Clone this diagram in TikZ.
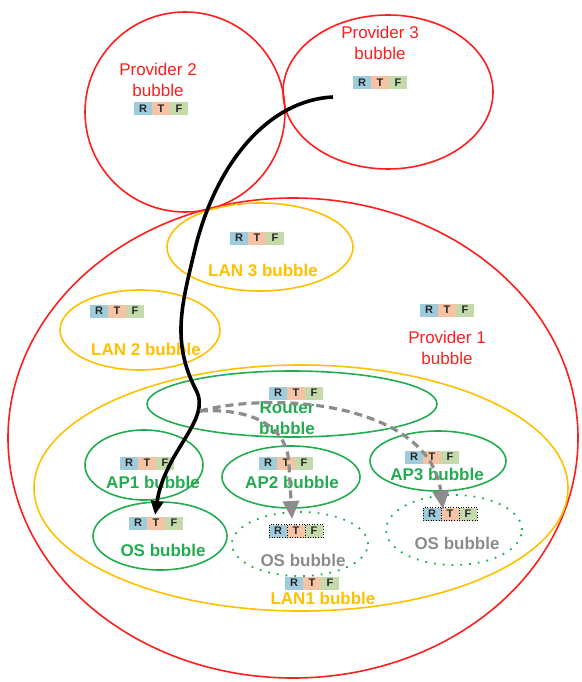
\documentclass[tikz,border=0pt]{standalone}
\usepackage{fontspec}
\setmainfont{Liberation Sans}
\usetikzlibrary{arrows.meta}
\definecolor{provred}{RGB}{255,30,30}
\definecolor{lanyel}{RGB}{255,192,0}
\definecolor{apgreen}{RGB}{34,172,80}
\definecolor{flowgray}{RGB}{140,140,140}
\definecolor{rcell}{RGB}{158,204,220}
\definecolor{tcell}{RGB}{246,196,164}
\definecolor{fcell}{RGB}{196,218,170}
\tikzset{
  bubtext/.style={font=\fontsize{17}{21}\selectfont,align=center,inner sep=0pt},
  rtftext/.style={font=\fontsize{11}{11}\selectfont\bfseries,text=black!85,inner sep=0pt},
  dotcell/.style={draw=black,dotted,line width=0.6pt},
  pics/rtf/.style={code={
    \foreach \c/\l [count=\i] in {rcell/R,tcell/T,fcell/F}{
      \path[fill=\c,#1] ({-45+18*\i},-6.5) rectangle ++(18,13);
      \node[rtftext] at ({-36+18*\i},0) {\l};
    }
  }},
  pics/rtf/.default={}
}

\begin{document}
\begin{tikzpicture}[x=1pt,y=-1pt]
          \useasboundingbox (0,0) rectangle (581,682);
          % provider bubbles
          \draw [provred,line width=1.6pt] (185,112) ellipse (100pt and 100pt);
          \draw [provred,line width=1.6pt] (388,92) ellipse (105pt and 77pt);
          \draw [provred,line width=1.6pt] (293,438) ellipse (285pt and 240pt);
          \node[bubtext,text=provred] (prov2) at (158,80) {Provider 2\\bubble};
          \node[bubtext,text=provred] (prov3) at (380,43) {Provider 3\\bubble};
          \node[bubtext,text=provred] (prov1) at (447,348) {Provider 1\\bubble};
          \pic at (161,109) {rtf};
          \pic at (380,83) {rtf};
          \pic at (447,310) {rtf};
          % LAN bubbles
          \draw [lanyel,line width=1.6pt] (260,247) ellipse (93pt and 44pt);
          \draw [lanyel,line width=1.6pt] (140,330) ellipse (80pt and 40pt);
          \draw [lanyel,line width=1.6pt] (301,488) ellipse (267pt and 123pt);
          \node[bubtext,text=lanyel,font=\fontsize{17}{21}\selectfont\bfseries] (lan3) at (263,270) {LAN 3 bubble};
          \node[bubtext,text=lanyel,font=\fontsize{17}{21}\selectfont\bfseries] (lan2) at (146,349) {LAN 2 bubble};
          \node[bubtext,text=lanyel,font=\fontsize{17}{21}\selectfont\bfseries] (lan1) at (323,598) {LAN1 bubble};
          \pic at (257,238) {rtf};
          \pic at (117,311) {rtf};
          \pic at (312,583) {rtf};
          % router, APs and OS
          \draw [apgreen,line width=1.6pt] (292,404) ellipse (145pt and 33pt);
          \draw [apgreen,line width=1.6pt] (144,465) ellipse (59pt and 35pt);
          \draw [apgreen,line width=1.6pt] (291,477) ellipse (69pt and 31pt);
          \draw [apgreen,line width=1.6pt] (438,461) ellipse (68pt and 30pt);
          \draw [apgreen,line width=1.6pt] (160,536) ellipse (67pt and 34pt);
          \draw [apgreen,line width=1.8pt,dash pattern=on 1.8pt off 7pt] (300,544) ellipse (68pt and 32pt);
          \draw [apgreen,line width=1.8pt,dash pattern=on 1.8pt off 7pt] (454,530) ellipse (68pt and 35pt);
          \node[bubtext,text=apgreen,font=\fontsize{17}{21}\selectfont\bfseries] (router) at (287,418) {Router\\bubble};
          \node[bubtext,text=apgreen,font=\fontsize{17}{21}\selectfont\bfseries] (ap1) at (153,482) {AP1 bubble};
          \node[bubtext,text=apgreen,font=\fontsize{17}{21}\selectfont\bfseries] (ap2) at (292,482) {AP2 bubble};
          \node[bubtext,text=apgreen,font=\fontsize{17}{21}\selectfont\bfseries] (ap3) at (437,474) {AP3 bubble};
          \node[bubtext,text=apgreen,font=\fontsize{17}{21}\selectfont\bfseries] (os1) at (163,550) {OS bubble};
          \node[bubtext,text=flowgray,font=\fontsize{17}{21}\selectfont\bfseries] (os2) at (303,560) {OS bubble};
          \node[bubtext,text=flowgray,font=\fontsize{17}{21}\selectfont\bfseries] (os3) at (457,543) {OS bubble};
          \pic at (296,393) {rtf};
          \pic at (147,463) {rtf};
          \pic at (286,463) {rtf};
          \pic at (432,457) {rtf};
          \pic at (156,523) {rtf};
          \pic at (296,531) {rtf=dotcell};
          \pic at (450,514) {rtf=dotcell};
          % flows
          \coordinate (p3src) at (333,97);
          \coordinate (rtsrc) at (200,411);
          \coordinate (os1in) at (155,515);
          \coordinate (os2in) at (292,519);
          \coordinate (os3in) at (443,509);
          \draw [line width=3.6pt,-{Triangle[width=12pt,length=14pt]}] (p3src) .. controls (270,100) and (218,160) .. (196,245)
                .. controls (183,300) and (170,340) .. (196,390) .. controls (212,420) and (165,450) .. (os1in);
          \draw [flowgray,line width=3.2pt,dash pattern=on 8pt off 5pt,-{Triangle[width=16pt,length=18pt]}] (rtsrc) .. controls (250,408) and (288,425) .. (289,465) -- (os2in);
          \draw [flowgray,line width=3.2pt,dash pattern=on 8pt off 5pt,-{Triangle[width=16pt,length=18pt]}] (rtsrc) .. controls (280,390) and (430,405) .. (os3in);
\end{tikzpicture}
\end{document}
